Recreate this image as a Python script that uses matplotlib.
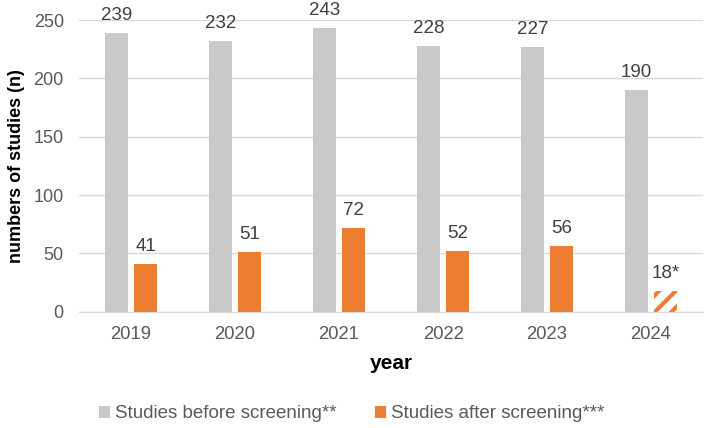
import matplotlib.pyplot as plt
import numpy as np

years = ["2019", "2020", "2021", "2022", "2023", "2024"]
before = [239, 232, 243, 228, 227, 190]
after = [41, 51, 72, 52, 56, 18]
after_labels = ["41", "51", "72", "52", "56", "18*"]

gray = "#C9C9C9"
orange = "#ED7D31"

plt.rcParams['font.family'] = ['Liberation Sans', 'DejaVu Sans']
plt.rcParams['hatch.linewidth'] = 3.0

fig = plt.figure(figsize=(7.12, 4.28), dpi=100)
ax = fig.add_axes([0.111, 0.2717, 0.8764, 0.6815])

x = np.arange(len(years))
w = 0.22
off = 0.14

bb = ax.bar(x - off, before, w, color=gray, label="Studies before screening**", zorder=2)
ab = ax.bar(x[:-1] + off, after[:-1], w, color=orange, label="Studies after screening***", zorder=2)
ax.bar(x[-1] + off, after[-1], w, facecolor="white", edgecolor=orange, hatch="//",
       linewidth=0, zorder=2)

for xi, v in zip(x, before):
    ax.annotate(str(v), (xi - off, v), xytext=(0, 9.4), textcoords="offset points",
                ha="center", va="baseline", fontsize=13.5, color="#404040")
for xi, v, lab in zip(x, after, after_labels):
    ax.annotate(lab, (xi + off, v), xytext=(0, 9.4), textcoords="offset points",
                ha="center", va="baseline", fontsize=13.5, color="#404040")

ax.set_xlim(-0.5, len(years) - 0.5)
ax.set_ylim(0, 250)
ax.set_yticks(range(0, 251, 50))
ax.set_xticks(x)
ax.set_xticklabels(years)
ax.tick_params(axis="x", length=0, labelsize=13.3, labelcolor="#595959", pad=10)
ax.tick_params(axis="y", length=0, labelsize=13, labelcolor="#595959", pad=11)
ax.yaxis.grid(True, color="#D9D9D9", linewidth=1, zorder=0)
ax.set_axisbelow(True)
for s in ["top", "right", "left"]:
    ax.spines[s].set_visible(False)
ax.spines["bottom"].set_color("#D9D9D9")

ax.set_xlabel("year", fontsize=15, fontweight="bold", labelpad=8)
ax.set_ylabel("numbers of studies (n)", fontsize=13, fontweight="bold", labelpad=6)

fig.legend(handles=[bb, ab], loc="center", bbox_to_anchor=(0.494, 0.033), ncol=2,
           frameon=False, fontsize=13.5, handlelength=0.6, handleheight=0.6,
           handletextpad=0.3, columnspacing=2.0, labelcolor="#595959")

fig.savefig("out.png", dpi=100)
